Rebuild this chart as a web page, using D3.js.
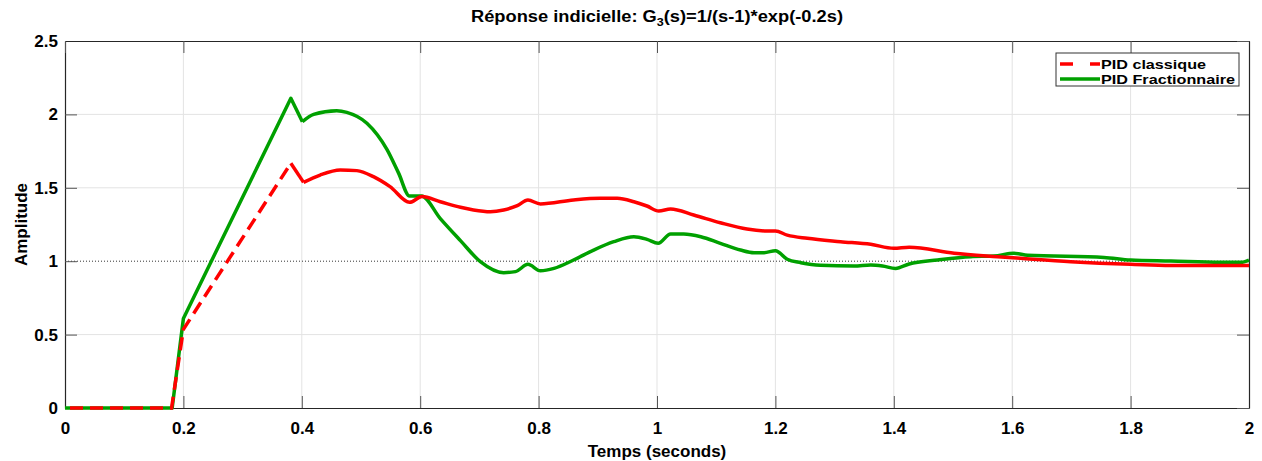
<!DOCTYPE html>
<html>
<head>
<meta charset="utf-8">
<script src="https://d3js.org/d3.v7.min.js"></script>
<style>
  body { margin: 0; background: #fff; }
  text { font-family: "Liberation Sans Narrow", "Arial Narrow", "Liberation Sans", Arial, sans-serif; font-weight: bold; }
</style>
</head>
<body>
<svg id="chart" width="1262" height="461"></svg>
<script>
  // PID classique (red dashed)
  var classiqueT = [0, 0.18, 0.2, 0.3815, 0.403, 0.431, 0.465, 0.493, 0.521, 0.549, 0.582, 0.603, 0.634, 0.668, 0.69, 0.7185, 0.741, 0.764, 0.782, 0.803, 0.859, 0.904, 0.933, 0.961, 0.983, 1.003, 1.023, 1.062, 1.107, 1.152, 1.186, 1.2, 1.22, 1.254, 1.31, 1.361, 1.40, 1.426, 1.502, 1.575, 1.614, 1.699, 1.80, 1.896, 2];
  var classiqueY = [0, 0, 0.536, 1.667, 1.537, 1.587, 1.621, 1.617, 1.576, 1.508, 1.401, 1.44, 1.405, 1.367, 1.349, 1.337, 1.349, 1.378, 1.417, 1.39, 1.417, 1.428, 1.428, 1.405, 1.376, 1.342, 1.356, 1.315, 1.262, 1.219, 1.206, 1.206, 1.178, 1.156, 1.133, 1.115, 1.088, 1.095, 1.054, 1.031, 1.02, 0.997, 0.979, 0.97, 0.97];

  // PID Fractionnaire (green)
  var fracT = [0, 0.181, 0.2, 0.3815, 0.401, 0.42, 0.459, 0.476, 0.51, 0.544, 0.5635, 0.582, 0.602, 0.634, 0.668, 0.7016, 0.741, 0.761, 0.782, 0.803, 0.826, 0.859, 0.893, 0.927, 0.961, 0.983, 1.002, 1.023, 1.045, 1.074, 1.107, 1.141, 1.164, 1.181, 1.2, 1.22, 1.243, 1.276, 1.333, 1.361, 1.381, 1.403, 1.426, 1.474, 1.53, 1.569, 1.603, 1.626, 1.755, 1.80, 1.868, 1.952, 1.986, 2];
  var fracY = [0, 0, 0.61, 2.11, 1.95, 2.0, 2.025, 2.014, 1.94, 1.76, 1.60, 1.444, 1.444, 1.29, 1.14, 0.997, 0.922, 0.929, 0.979, 0.935, 0.951, 1.008, 1.076, 1.133, 1.167, 1.149, 1.122, 1.185, 1.185, 1.167, 1.122, 1.076, 1.058, 1.058, 1.072, 1.013, 0.99, 0.972, 0.967, 0.974, 0.967, 0.951, 0.981, 1.008, 1.031, 1.035, 1.054, 1.04, 1.026, 1.008, 1.001, 0.992, 0.992, 1.008];

  var xTicks = [0, 0.2, 0.4, 0.6, 0.8, 1, 1.2, 1.4, 1.6, 1.8, 2];
  var yTicks = [0, 0.5, 1, 1.5, 2, 2.5];
  var reference = 1;

  var margin = {top: 41, right: 13, bottom: 53, left: 65},
      width = 1262 - margin.left - margin.right,
      height = 461 - margin.top - margin.bottom;

  var svg = d3.select("#chart")
    .append("g")
      .attr("transform", "translate(" + margin.left + "," + margin.top + ")");

  var x = d3.scaleLinear().domain([0, 2]).range([0, width]);
  var y = d3.scaleLinear().domain([0, 2.5]).range([height, 0]);

  // grid
  svg.append("g").selectAll("line")
    .data(xTicks.slice(1, -1))
    .enter().append("line")
      .attr("x1", function(d) { return x(d); })
      .attr("x2", function(d) { return x(d); })
      .attr("y1", 0).attr("y2", height)
      .style("stroke", "#e3e3e3").style("stroke-width", 1);
  svg.append("g").selectAll("line")
    .data(yTicks.slice(1, -1).filter(function(d) { return d != reference; }))
    .enter().append("line")
      .attr("y1", function(d) { return y(d); })
      .attr("y2", function(d) { return y(d); })
      .attr("x1", 0).attr("x2", width)
      .style("stroke", "#e3e3e3").style("stroke-width", 1);

  // dotted reference line at 1
  svg.append("line")
    .attr("x1", 0).attr("x2", width)
    .attr("y1", y(reference)).attr("y2", y(reference))
    .style("stroke", "#333").style("stroke-width", 1)
    .style("stroke-dasharray", "1,2");

  // axes (inner ticks on all four sides)
  var axBottom = svg.append("g")
    .attr("transform", "translate(0," + height + ")")
    .call(d3.axisBottom(x).tickValues(xTicks).tickSizeInner(-12).tickSizeOuter(0).tickPadding(14).tickFormat(d3.format("")));
  var axLeft = svg.append("g")
    .call(d3.axisLeft(y).tickValues(yTicks).tickSizeInner(-12).tickSizeOuter(0).tickPadding(7).tickFormat(d3.format("")));
  var axTop = svg.append("g")
    .call(d3.axisTop(x).tickValues(xTicks).tickSizeInner(-12).tickSizeOuter(0).tickFormat(""));
  var axRight = svg.append("g")
    .attr("transform", "translate(" + width + ",0)")
    .call(d3.axisRight(y).tickValues(yTicks).tickSizeInner(-12).tickSizeOuter(0).tickFormat(""));

  [axBottom, axLeft, axTop, axRight].forEach(function(a) {
    a.select(".domain").style("stroke", "#262626").style("stroke-width", 1.2);
    a.selectAll(".tick line").style("stroke", "#555");
    a.selectAll("text").style("font-size", "17px").style("fill", "#000")
      .style("font-family", '"Liberation Sans Narrow", "Arial Narrow", "Liberation Sans", sans-serif').style("font-weight", "bold");
  });

  // curves: straight rise up to the first dip, smooth afterwards
  var straight = d3.line()
    .x(function(d) { return x(d[0]); })
    .y(function(d) { return y(d[1]); });
  var smooth = d3.line()
    .curve(d3.curveMonotoneX)
    .x(function(d) { return x(d[0]); })
    .y(function(d) { return y(d[1]); });

  var fracData = fracT.map(function(t, i) { return [t, fracY[i]]; });
  var classData = classiqueT.map(function(t, i) { return [t, classiqueY[i]]; });
  var peakT = 0.3815, dipT = 0.405;

  function drawSeries(data, color, dashedRise) {
    var rise = data.filter(function(d) { return d[0] <= dipT; });
    var rest = data.filter(function(d) { return d[0] >= rise[rise.length - 1][0]; });
    if (dashedRise) {
      var up = rise.filter(function(d) { return d[0] <= peakT; });
      svg.append("path").datum(up)
        .attr("fill", "none").attr("stroke", color).attr("stroke-width", 3.5)
        .attr("stroke-dasharray", "13,7").attr("stroke-dashoffset", 15)
        .attr("d", straight);
      rise = rise.filter(function(d) { return d[0] >= peakT; });
    }
    svg.append("path").datum(rise)
      .attr("fill", "none").attr("stroke", color).attr("stroke-width", 3.5)
      .attr("stroke-linejoin", "round")
      .attr("d", straight);
    svg.append("path").datum(rest)
      .attr("fill", "none").attr("stroke", color).attr("stroke-width", 3.5)
      .attr("stroke-linejoin", "round")
      .attr("d", smooth);
  }

  drawSeries(fracData, "#00a000", false);
  drawSeries(classData, "#ff0000", true);

  // legend
  var legend = svg.append("g").attr("transform", "translate(" + (1056 - margin.left) + "," + (53 - margin.top) + ")");
  legend.append("rect")
    .attr("width", 183).attr("height", 33)
    .style("fill", "#fff").style("stroke", "#333").style("stroke-width", 1);
  legend.append("line")
    .attr("x1", 4).attr("x2", 44).attr("y1", 11).attr("y2", 11)
    .style("stroke", "#ff0000").style("stroke-width", 3.5).style("stroke-dasharray", "13,17");
  legend.append("line")
    .attr("x1", 4).attr("x2", 44).attr("y1", 26).attr("y2", 26)
    .style("stroke", "#00a000").style("stroke-width", 3.5);
  legend.append("text").attr("x", 45).attr("y", 15.5)
    .attr("textLength", 105).attr("lengthAdjust", "spacingAndGlyphs")
    .style("font-family", '"Liberation Sans", Arial, sans-serif').style("font-size", "13px")
    .text("PID classique");
  legend.append("text").attr("x", 45).attr("y", 30.5)
    .attr("textLength", 134).attr("lengthAdjust", "spacingAndGlyphs")
    .style("font-family", '"Liberation Sans", Arial, sans-serif').style("font-size", "13px")
    .text("PID Fractionnaire");

  // title and labels
  var title = d3.select("#chart").append("text")
    .attr("x", 657).attr("y", 22)
    .attr("text-anchor", "middle")
    .attr("textLength", 372).attr("lengthAdjust", "spacingAndGlyphs")
    .style("font-size", "16px");
  title.append("tspan").text("Réponse indicielle: G");
  title.append("tspan").attr("dy", 4).style("font-size", "11px").text("3");
  title.append("tspan").attr("dy", -4).text("(s)=1/(s-1)*exp(-0.2s)");

  d3.select("#chart").append("text")
    .attr("x", 657).attr("y", 457)
    .attr("text-anchor", "middle")
    .style("font-size", "17px")
    .text("Temps (seconds)");

  d3.select("#chart").append("text")
    .attr("transform", "translate(27," + (margin.top + y(1.25)) + ") rotate(-90)")
    .attr("text-anchor", "middle")
    .style("font-size", "17px")
    .text("Amplitude");
</script>
</body>
</html>
